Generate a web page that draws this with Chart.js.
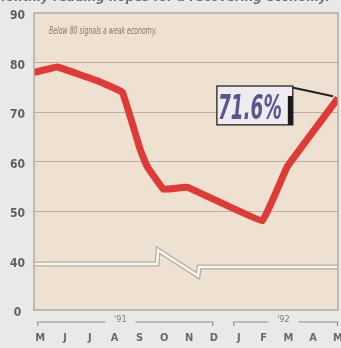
<!DOCTYPE html>
<html><head><meta charset="utf-8">
<script src="https://cdn.jsdelivr.net/npm/chart.js@4"></script>
<style>
html,body{margin:0;padding:0;overflow:hidden;background:#e9e9e7;width:341px;height:348px}
canvas{display:block}
</style></head><body>
<canvas id="c" width="360" height="348" style="width:360px;height:348px"></canvas>
<script>
// ---- data ----
const monthLabels = ['M','J','J','A','S','O','N','D','J','F','M','A','M'];
const yearLabels = ["'91", "'92"];
const yearFrom = [-0.1, 7.8];
const yearTo = [6.95, 11.98];
const yearTextAt = [3.23, 9.8];
const pointMonth = [-0.25, 0.69, 2.3, 3.31, 4.03, 4.31, 4.96, 5.93, 8.95, 9.96, 12];
const indexValues = [78, 79.1, 76.3, 74, 62.4, 59, 54.4, 54.8, 48, 59, 72.8];
const yTicks = [30, 40, 50, 60, 70, 80, 90];
const yTickLabels = ['0', '40', '50', '60', '70', '80', '90'];
const breakMonth = [-0.25, 4.71, 4.75, 6.36, 6.4, 12];
const breakValue = [39.3, 39.3, 42.1, 36.9, 38.7, 38.7];
const latestLabel = '71.6%';
const noteText = 'Below 80 signals a weak economy.';
const headText = 'Monthly reading hopes for a recovering economy.';

const COND = "'Liberation Sans Narrow','DejaVu Sans Condensed','Roboto',sans-serif";

function fitText(ctx, text, x, y, w) {
  const m = ctx.measureText(text).width;
  ctx.save();
  ctx.translate(x, y);
  ctx.scale(w / m, 1);
  ctx.fillText(text, 0, 0);
  ctx.restore();
}

const decor = {
  id: 'decor',
  beforeDraw(chart) {
    const { ctx, chartArea: a } = chart;
    ctx.save();
    ctx.fillStyle = '#e9e9e7';
    ctx.fillRect(0, 0, chart.width, chart.height);
    ctx.fillStyle = '#eee1d1';
    ctx.fillRect(a.left, a.top, a.right - a.left, a.bottom - a.top);
    ctx.restore();
  },
  afterDraw(chart) {
    const { ctx, chartArea: a } = chart;
    const xs = chart.scales.x, ys = chart.scales.y;
    ctx.save();
    // frame
    ctx.strokeStyle = '#b3aa9e';
    ctx.lineWidth = 1.5;
    ctx.strokeRect(a.left, a.top, a.right - a.left, a.bottom - a.top);
    // head text (cut off at top)
    ctx.fillStyle = '#707070';
    ctx.font = "italic bold 13px " + COND;
    ctx.textBaseline = 'alphabetic';
    fitText(ctx, headText, -6, 1, 336);
    // note
    ctx.fillStyle = '#80766a';
    ctx.font = "italic 10px " + COND;
    ctx.textBaseline = 'middle';
    fitText(ctx, noteText, a.left + 15, a.top + 18, 108);
    // year brackets
    ctx.strokeStyle = '#8f8f8f';
    ctx.lineWidth = 1.2;
    ctx.font = "9px " + COND;
    ctx.fillStyle = '#7a7a7a';
    ctx.textAlign = 'center';
    const ly = a.bottom + 12;
    for (let i = 0; i < yearLabels.length; i++) {
      const x1 = xs.getPixelForValue(yearFrom[i]);
      const x2 = xs.getPixelForValue(yearTo[i]);
      const xt = xs.getPixelForValue(yearTextAt[i]);
      const half = 15;
      ctx.beginPath();
      ctx.moveTo(x1, ly + 4); ctx.lineTo(x1, ly); ctx.lineTo(xt - half, ly);
      ctx.moveTo(xt + half, ly); ctx.lineTo(x2, ly); ctx.lineTo(x2, ly + 4);
      ctx.stroke();
      ctx.fillText(yearLabels[i], xt, ly - 2);
    }
    // callout box
    const bx1 = xs.getPixelForValue(7.12), bx2 = xs.getPixelForValue(10.18);
    const by1 = ys.getPixelForValue(75.25), by2 = ys.getPixelForValue(67.4);
    const lastX = xs.getPixelForValue(11.8), lastY = ys.getPixelForValue(73.2);
    ctx.strokeStyle = '#222';
    ctx.lineWidth = 2;
    ctx.beginPath();
    ctx.moveTo(bx2 - 3, by1 + 1);
    ctx.lineTo(lastX, lastY);
    ctx.stroke();
    ctx.fillStyle = '#eeebf1';
    ctx.fillRect(bx1, by1, bx2 - bx1, by2 - by1);
    ctx.lineWidth = 1.3;
    ctx.strokeRect(bx1, by1, bx2 - bx1, by2 - by1);
    ctx.fillStyle = '#1a1a1a';
    ctx.fillRect(bx2 - 5, by1 + 10, 5, by2 - by1 - 10);
    ctx.fillStyle = '#5b5590';
    ctx.font = "italic bold 33px " + COND;
    ctx.textAlign = 'left';
    ctx.textBaseline = 'alphabetic';
    fitText(ctx, latestLabel, bx1 + 1, by2 - 6, 64);
    ctx.restore();
  }
};

new Chart(document.getElementById('c'), {
  type: 'line',
  data: {
    datasets: [
      {
        data: pointMonth.map((m, i) => ({ x: m, y: indexValues[i] })),
        borderColor: '#e03a37', borderWidth: 7, pointRadius: 0,
        tension: 0.05, borderJoinStyle: 'round', order: 0
      },
      {
        data: breakMonth.map((m, i) => ({ x: m, y: breakValue[i] })),
        borderColor: '#fbf8f2', borderWidth: 2.5, pointRadius: 0,
        tension: 0, borderJoinStyle: 'miter', order: 1
      },
      {
        data: breakMonth.map((m, i) => ({ x: m, y: breakValue[i] })),
        borderColor: '#b6ada1', borderWidth: 5, pointRadius: 0,
        tension: 0, borderJoinStyle: 'miter', order: 2
      }
    ]
  },
  options: {
    responsive: false,
    devicePixelRatio: 1,
    animation: false,
    layout: { padding: { top: 13, right: 22, left: 0, bottom: 0 } },
    plugins: { legend: { display: false }, tooltip: { enabled: false } },
    scales: {
      x: {
        type: 'linear', min: -0.25, max: 12,
        grid: { display: false, drawTicks: false },
        border: { display: false },
        afterFit(s) { s.height = 38; s.paddingLeft = 0; s.paddingRight = 0; },
        ticks: {
          stepSize: 1, includeBounds: false, autoSkip: false, maxRotation: 0, maxTicksLimit: 30,
          padding: 22, color: '#6a6a6a',
          font: { family: COND, size: 11, weight: 'bold' },
          callback: v => Number.isInteger(v) ? monthLabels[v] : ''
        }
      },
      y: {
        type: 'linear', min: 30, max: 90,
        afterFit(s) { s.width = 34; s.paddingTop = 0; s.paddingBottom = 0; },
        border: { display: false },
        grid: {
          drawTicks: false, lineWidth: 1,
          color: c => [50, 60, 70, 80].includes(c.tick.value) ? '#bcb0a1' : 'rgba(0,0,0,0)'
        },
        ticks: {
          stepSize: 10, crossAlign: 'center', padding: 9, labelOffset: 3,
          color: '#5e5e5e',
          font: { family: COND, size: 12, weight: 'bold' },
          callback: v => { const i = yTicks.indexOf(v); return i >= 0 ? yTickLabels[i] : ''; }
        }
      }
    }
  },
  plugins: [decor]
});
</script>
</body></html>
